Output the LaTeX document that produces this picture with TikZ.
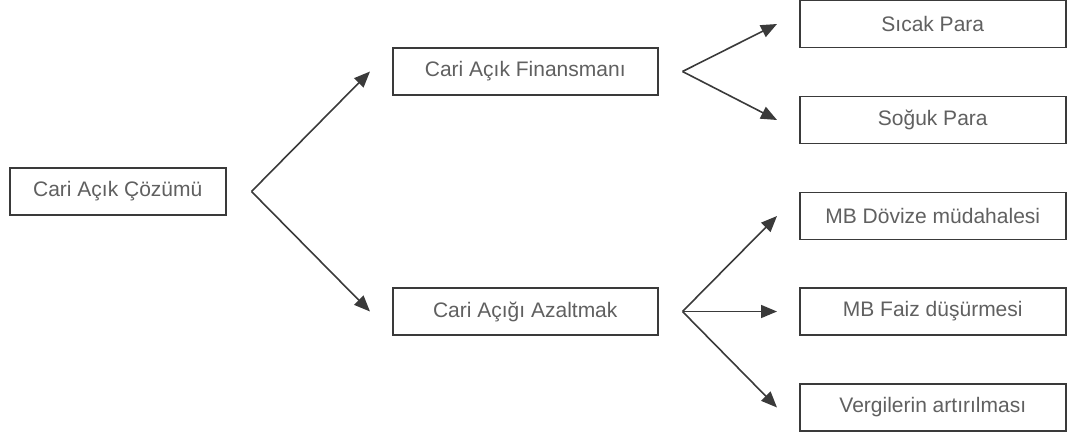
\documentclass[tikz,border=0pt]{standalone}
\usepackage{fontspec}
\setmainfont{Liberation Sans}
\usetikzlibrary{arrows.meta,calc}
\definecolor{linec}{HTML}{3A3A3A}
\definecolor{textc}{HTML}{606060}
\begin{document}
\begin{tikzpicture}[x=1pt,y=-1pt,
  box/.style={draw=linec,line width=1.5pt,fill=white,minimum width=#1,minimum height=47pt,
    inner sep=0pt,text=textc,font=\fontsize{21}{24}\selectfont,anchor=west},
  box/.default=265pt,
  conn/.style={draw=linec,line width=1.6pt,-{Triangle[length=16pt,width=13pt]}}]
\useasboundingbox (0,0) rectangle (1067,437);
\node[box=216pt] (root) at (9,191.5) {Cari Açık Çözümü};
\node[box] (fin) at (392,71.5) {Cari Açık Finansmanı};
\node[box] (azl) at (392,311.5) {Cari Açığı Azaltmak};
\node[box=266pt] (sic) at (799,24) {Sıcak Para};
\node[box=266pt] (sog) at (799,120) {Soğuk Para};
\node[box=266pt] (dov) at (799,216) {MB Dövize müdahalesi};
\node[box=266pt] (fai) at (799,311.5) {MB Faiz düşürmesi};
\node[box=266pt] (ver) at (799,407.5) {Vergilerin artırılması};
\coordinate (s0) at ($(root.east)+(25,0)$);
\coordinate (s1) at ($(fin.east)+(24,0)$);
\coordinate (s2) at ($(azl.east)+(24,0)$);
\draw[conn] (s0) -- ($(fin.west)+(-22,0)$);
\draw[conn] (s0) -- ($(azl.west)+(-22,0)$);
\draw[conn] (s1) -- ($(sic.west)+(-22,0)$);
\draw[conn] (s1) -- ($(sog.west)+(-22,0)$);
\draw[conn] (s2) -- ($(dov.west)+(-22,0)$);
\draw[conn] (s2) -- ($(fai.west)+(-22,0)$);
\draw[conn] (s2) -- ($(ver.west)+(-22,0)$);
\end{tikzpicture}
\end{document}
